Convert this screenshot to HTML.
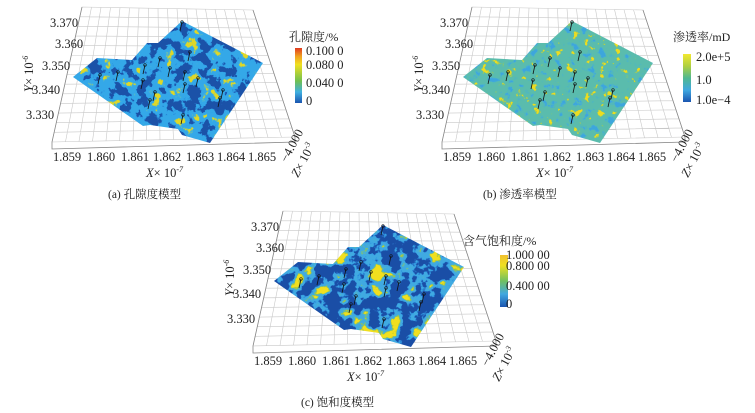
<!DOCTYPE html>
<html><head><meta charset="utf-8"><style>
html,body{margin:0;padding:0;background:#fff;width:755px;height:413px;overflow:hidden}
svg{display:block}
text{font-family:"Liberation Serif","Noto Serif CJK SC",serif;fill:#222}
.cj{font-family:"Liberation Serif","Noto Serif CJK SC","Noto Sans CJK SC",serif}
</style></head><body>
<svg id="s" width="755" height="413" viewBox="0 0 755 413" xmlns="http://www.w3.org/2000/svg">
<defs>
<clipPath id="cp"><polygon points="182,21 263,63 210,143 182,135 178,129 150,125 143,126 73,77 97,58 132,60 147,43 158,43"/></clipPath>
<linearGradient id="ga" x1="0" y1="0" x2="0" y2="1">
<stop offset="0" stop-color="#e03a20"/><stop offset="0.15" stop-color="#f0a020"/><stop offset="0.3" stop-color="#f0e020"/><stop offset="0.6" stop-color="#70c050"/><stop offset="0.8" stop-color="#40b0e0"/><stop offset="1" stop-color="#1a55b0"/></linearGradient>
<linearGradient id="gb" x1="0" y1="0" x2="0" y2="1">
<stop offset="0" stop-color="#f2e830"/><stop offset="0.25" stop-color="#b0d040"/><stop offset="0.5" stop-color="#50b890"/><stop offset="0.75" stop-color="#40a8e0"/><stop offset="1" stop-color="#1a55b0"/></linearGradient>
<linearGradient id="gc" x1="0" y1="0" x2="0" y2="1">
<stop offset="0" stop-color="#f0c030"/><stop offset="0.2" stop-color="#f0e020"/><stop offset="0.5" stop-color="#70c060"/><stop offset="0.75" stop-color="#40a8e0"/><stop offset="1" stop-color="#1a55b0"/></linearGradient>
</defs>
<g id="pa"></g><g id="pb" transform="translate(390,0)"></g><g id="pc" transform="translate(201,204)"></g>

<g font-size="12.5">
<text x="50" y="27">3.370</text><text x="55" y="48">3.360</text><text x="42" y="70">3.350</text><text x="32" y="94">3.340</text><text x="26" y="119">3.330</text>
<text transform="translate(33,92) rotate(-90)" font-style="italic">Y<tspan font-style="normal">× 10</tspan><tspan font-size="8" dy="-5">-6</tspan></text>
<text x="53" y="161">1.859</text><text x="87" y="161">1.860</text><text x="121" y="161">1.861</text><text x="153" y="161">1.862</text><text x="186" y="161">1.863</text><text x="217" y="161">1.864</text><text x="248" y="161">1.865</text>
<text x="146" y="177" font-style="italic">X<tspan font-style="normal">× 10</tspan><tspan font-size="8" dy="-5">-7</tspan></text>
<text transform="translate(287,163) rotate(-62)">−4.000</text>
<text transform="translate(298,178) rotate(-62)" font-style="italic">Z<tspan font-style="normal">× 10</tspan><tspan font-size="8" dy="-5">-3</tspan></text>
<text x="289" y="41" class="cj" font-size="12">孔隙度/%</text>
<rect x="295" y="48" width="7" height="55" fill="url(#ga)"/>
<text x="306" y="55">0.100 0</text><text x="306" y="69">0.080 0</text><text x="306" y="87">0.040 0</text><text x="306" y="105">0</text>
<text x="108" y="198" class="cj" font-size="11.5">(a) 孔隙度模型</text>

<g transform="translate(390,0)">
<text x="50" y="27">3.370</text><text x="55" y="48">3.360</text><text x="42" y="70">3.350</text><text x="32" y="94">3.340</text><text x="26" y="119">3.330</text>
<text transform="translate(33,92) rotate(-90)" font-style="italic">Y<tspan font-style="normal">× 10</tspan><tspan font-size="8" dy="-5">-6</tspan></text>
<text x="53" y="161">1.859</text><text x="87" y="161">1.860</text><text x="121" y="161">1.861</text><text x="153" y="161">1.862</text><text x="186" y="161">1.863</text><text x="217" y="161">1.864</text><text x="248" y="161">1.865</text>
<text x="146" y="177" font-style="italic">X<tspan font-style="normal">× 10</tspan><tspan font-size="8" dy="-5">-7</tspan></text>
<text transform="translate(287,163) rotate(-62)">−4.000</text>
<text transform="translate(298,178) rotate(-62)" font-style="italic">Z<tspan font-style="normal">× 10</tspan><tspan font-size="8" dy="-5">-3</tspan></text>
<text x="283" y="41" class="cj" font-size="12">渗透率/mD</text>
<rect x="293" y="54" width="8" height="48" fill="url(#gb)"/>
<text x="306" y="61">2.0e+5</text><text x="306" y="84">1.0</text><text x="306" y="104">1.0e−4</text>
<text x="93" y="198" class="cj" font-size="11.5">(b) 渗透率模型</text>
</g>

<g transform="translate(201,204)">
<text x="50" y="27">3.370</text><text x="55" y="48">3.360</text><text x="42" y="70">3.350</text><text x="32" y="94">3.340</text><text x="26" y="119">3.330</text>
<text transform="translate(33,92) rotate(-90)" font-style="italic">Y<tspan font-style="normal">× 10</tspan><tspan font-size="8" dy="-5">-6</tspan></text>
<text x="53" y="161">1.859</text><text x="87" y="161">1.860</text><text x="121" y="161">1.861</text><text x="153" y="161">1.862</text><text x="186" y="161">1.863</text><text x="217" y="161">1.864</text><text x="248" y="161">1.865</text>
<text x="146" y="177" font-style="italic">X<tspan font-style="normal">× 10</tspan><tspan font-size="8" dy="-5">-7</tspan></text>
<text transform="translate(287,163) rotate(-62)">−4.000</text>
<text transform="translate(298,178) rotate(-62)" font-style="italic">Z<tspan font-style="normal">× 10</tspan><tspan font-size="8" dy="-5">-3</tspan></text>
<text x="262" y="41" class="cj" font-size="12">含气饱和度/%</text>
<rect x="299" y="51" width="8" height="52" fill="url(#gc)"/>
<text x="305" y="55">1.000 00</text><text x="305" y="66">0.800 00</text><text x="305" y="86">0.400 00</text><text x="305" y="104">0</text>
<text x="100" y="202" class="cj" font-size="11.5">(c) 饱和度模型</text>
</g>
</g>
</svg>
<script>
var NS="http://www.w3.org/2000/svg";
function el(t,a,p){var e=document.createElementNS(NS,t);for(var k in a)e.setAttribute(k,a[k]);if(p)p.appendChild(e);return e;}
function hx(c){return [parseInt(c.substr(1,2),16)/255,parseInt(c.substr(3,2),16)/255,parseInt(c.substr(5,2),16)/255];}
var defs=document.querySelector("defs");
function rep(c,n){var a=[];for(var i=0;i<n;i++)a.push(c);return a;}
var cfg={
 pa:{seed:3,f:"0.08",k:2.2,cols:rep("#1b52a8",11).concat(["#2268bc","#2c90dc","#30a2e8"]).concat(rep("#34a8e8",12)).concat(["#3eaee2","#56b8c8","#80c290","#b8cc48","#e0d828"])},
 pb:{seed:7,f:"0.12",k:2.2,cols:["#3ea6dc","#44aadc","#48b0d4"].concat(rep("#52b8bc",3)).concat(rep("#5abdae",15)).concat(["#64c09e","#88c670","#c0d040","#ecdc22"])},
 pc:{seed:11,f:"0.065",k:2.4,cols:rep("#1a4ea6",11).concat(["#1e58b0","#2a80d0","#36a0e4"]).concat(rep("#40aae2",6)).concat(["#50b4c8","#70bc90","#98c450","#c8d030","#eadc20","#f2e020"])}
};
for(var id in cfg){
 var c=cfg[id],g=document.getElementById(id);
 var TL=[82,7],TR=[253,10],BR=[295,137],BL=[52,142];
 function L(a,b,t){return [a[0]+(b[0]-a[0])*t,a[1]+(b[1]-a[1])*t];}
 var d="";
 for(var i=0;i<=18;i++){var t=i/18,p=L(TL,TR,t),q=L(BL,BR,t);d+="M"+p[0]+" "+p[1]+"L"+q[0]+" "+q[1];}
 for(var j=0;j<=14;j++){var t=j/14,p=L(TL,BL,t),q=L(TR,BR,t);d+="M"+p[0]+" "+p[1]+"L"+q[0]+" "+q[1];}
 el("path",{d:d,stroke:"#c8c8c8","stroke-width":"0.6",fill:"none"},g);
 el("path",{d:"M52 142L52 149L295 142L295 137M82 7L52 142M253 10L295 137",stroke:"#888","stroke-width":"0.8",fill:"none"},g);
 var f=el("filter",{id:"f"+id,x:"60",y:"15",width:"210",height:"135",filterUnits:"userSpaceOnUse","color-interpolation-filters":"sRGB"},defs);
 el("feTurbulence",{type:"fractalNoise",baseFrequency:c.f,numOctaves:"4",seed:c.seed},f);
 var k=c.k,b=0.5-k*0.5;
 el("feColorMatrix",{type:"matrix",values:k+" 0 0 0 "+b+" "+k+" 0 0 0 "+b+" "+k+" 0 0 0 "+b+" 0 0 0 0 1"},f);
 var ct=el("feComponentTransfer",{},f);
 var r=[],gg=[],bb=[];c.cols.forEach(function(h){var v=hx(h);r.push(v[0].toFixed(3));gg.push(v[1].toFixed(3));bb.push(v[2].toFixed(3));});
 el("feFuncR",{type:"table",tableValues:r.join(" ")},ct);
 el("feFuncG",{type:"table",tableValues:gg.join(" ")},ct);
 el("feFuncB",{type:"table",tableValues:bb.join(" ")},ct);
 var gr=el("g",{"clip-path":"url(#cp)"},g);
 el("rect",{x:"60",y:"15",width:"210",height:"135",filter:"url(#f"+id+")"},gr);
 var wells=[[182,22],[190,52],[160,58],[145,65],[170,68],[118,72],[100,75],[143,80],[185,72],[198,78],[185,84],[155,92],[150,100],[223,90],[220,98],[183,115]];
 wells.forEach(function(w){el("path",{d:"M"+w[0]+" "+w[1]+"l-2 9",stroke:"#111","stroke-width":"0.8"},g);el("circle",{cx:w[0],cy:w[1],r:"1.3",fill:"none",stroke:"#111","stroke-width":"0.6"},g);});
}
</script>
</body></html>
